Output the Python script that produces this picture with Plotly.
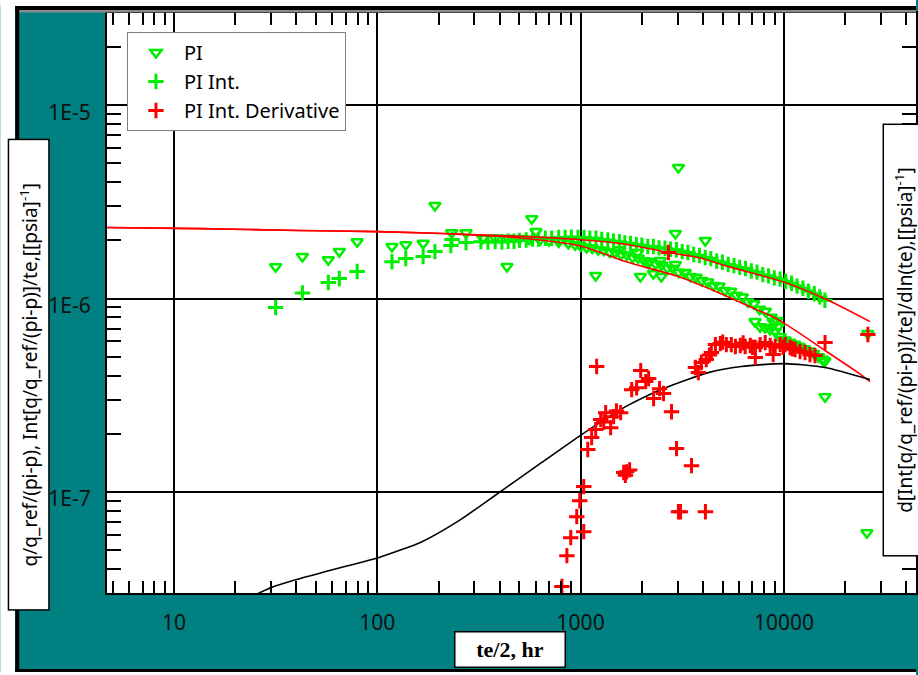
import math
import plotly.graph_objects as go

# ---------------- data ----------------
x_ticks = [10, 100, 1000, 10000]
x_tick_labels = ["10", "100", "1000", "10000"]
y_ticks = [1e-7, 1e-6, 1e-5]
y_tick_labels = ["1E-7", "1E-6", "1E-5"]

# PI (q/q_ref/(pi-p)) - triangles
pi_x = [31.6, 42.8, 57.4, 65.0, 79.6, 118, 138, 168, 192, 232, 273, 434, 575, 603, 1186,
        330, 380, 440, 500, 560, 630, 700, 780, 870, 940,
        1000, 1070, 1140, 1220, 1300, 1390, 1480, 1580, 1690, 1800, 1920, 2050, 2190, 2340,
        2500, 2670, 2850, 3040, 3250, 3470, 3700, 3950, 4220, 4500, 4800, 5130, 5470, 5840,
        6240, 6660, 7110, 7590, 8100, 8650, 9230,
        7210, 7630, 8080, 8550, 9050, 9580, 9360, 8850, 9690,
        10140, 10700, 11300, 11900, 12600, 13300, 14000, 14800, 15500, 15900,
        3027, 2925, 4104, 1967, 1905, 2466, 2280, 2494, 2925, 3273, 1537, 2158,
        15930, 25600, 25880, 15770]
pi_y = [1.46e-6, 1.65e-6, 1.59e-6, 1.75e-6, 1.97e-6, 1.86e-6, 1.90e-6, 1.93e-6, 3.03e-6, 2.19e-6,
        2.19e-6, 1.464e-6, 2.59e-6, 2.22e-6, 1.315e-6,
        2.05e-6, 2.06e-6, 2.05e-6, 2.04e-6, 2.03e-6, 2.01e-6, 1.99e-6, 1.96e-6, 1.93e-6, 1.90e-6,
        1.87e-6, 1.84e-6, 1.83e-6, 1.79e-6, 1.78e-6, 1.74e-6, 1.73e-6, 1.69e-6, 1.68e-6, 1.63e-6,
        1.62e-6, 1.57e-6, 1.56e-6, 1.51e-6, 1.49e-6, 1.44e-6, 1.43e-6, 1.37e-6, 1.36e-6, 1.30e-6,
        1.29e-6, 1.24e-6, 1.22e-6, 1.17e-6, 1.16e-6, 1.10e-6, 1.09e-6, 1.04e-6, 1.02e-6, 9.6e-7,
        9.4e-7, 8.8e-7, 8.6e-7, 8.0e-7, 7.7e-7,
        7.6e-7, 7.16e-7, 7.08e-7, 6.92e-7, 6.75e-7, 6.36e-7, 7.16e-7, 7.6e-7, 6.14e-7,
        6.1e-7, 5.95e-7, 5.8e-7, 5.65e-7, 5.5e-7, 5.35e-7, 5.2e-7, 5.0e-7, 4.85e-7, 4.75e-7,
        4.76e-6, 2.17e-6, 1.995e-6, 1.30e-6, 1.73e-6, 1.572e-6, 1.346e-6, 1.30e-6, 1.50e-6,
        1.364e-6, 1.79e-6, 1.525e-6,
        3.11e-7, 6.15e-8, 6.59e-7, 4.72e-7]

# PI Int. - green crosses
pint_x = [31.6, 42.8, 57.4, 65.0, 79.6, 118, 138, 168, 192, 230, 233, 273, 323,
          350, 380, 410, 440, 470, 500, 540, 580, 620, 670, 720, 780, 840, 900, 970, 1040,
          1110, 1190, 1270, 1360, 1450, 1550, 1650, 1760, 1880, 2000, 2140, 2280, 2430, 2600,
          2770, 2960, 3160, 3370, 3600, 3840, 4100, 4370, 4670, 4980, 5320, 5680, 6060, 6470,
          6910, 7370, 7870, 8400, 8970, 9570, 10200, 10900, 11600, 12400, 13200, 14100, 15000,
          15900]
pint_y = [8.98e-7, 1.07e-6, 1.21e-6, 1.27e-6, 1.38e-6, 1.55e-6, 1.61e-6, 1.65e-6, 1.75e-6,
          1.88e-6, 2.02e-6, 1.95e-6, 1.97e-6,
          1.96e-6, 1.97e-6, 1.96e-6, 1.98e-6, 1.98e-6, 2.00e-6, 2.01e-6, 2.03e-6, 2.03e-6,
          2.05e-6, 2.05e-6, 2.07e-6, 2.07e-6, 2.08e-6, 2.07e-6, 2.07e-6, 2.05e-6, 2.05e-6,
          2.02e-6, 2.01e-6, 1.98e-6, 1.97e-6, 1.94e-6, 1.93e-6, 1.90e-6, 1.89e-6, 1.86e-6,
          1.86e-6, 1.83e-6, 1.82e-6, 1.80e-6, 1.79e-6, 1.75e-6, 1.73e-6, 1.69e-6, 1.67e-6,
          1.63e-6, 1.61e-6, 1.56e-6, 1.54e-6, 1.50e-6, 1.48e-6, 1.45e-6, 1.43e-6, 1.39e-6,
          1.37e-6, 1.33e-6, 1.31e-6, 1.28e-6, 1.26e-6, 1.23e-6, 1.20e-6, 1.16e-6, 1.13e-6,
          1.09e-6, 1.06e-6, 1.02e-6, 9.8e-7]

# PI Int. Derivative - red crosses
der_x = [809, 856, 894, 957, 990, 1036, 1036, 1084, 1133, 1186, 1199, 1255, 1328, 1405, 1453,
         1573, 1300, 1500, 1628, 1683, 1742, 1660, 1783, 1886, 1975, 2089, 2160, 2285, 2445,
         2557, 2704, 2800, 2963, 3027, 3098, 3510, 4110, 3670, 3793, 3925, 4150, 4395, 4600,
         4865, 5210, 5510, 5770, 6100, 6450, 6830, 7230, 7230, 7640, 8090, 8560, 8850, 9060,
         9580, 10140, 10720, 11350, 12000, 12700, 13430, 14220, 15930, 25880,
         5000, 6300, 7000, 9900, 4300, 11000]
der_y = [3.24e-8, 4.68e-8, 5.80e-8, 7.45e-8, 9.0e-8, 1.065e-7, 6.23e-8, 1.656e-7, 1.91e-7,
         2.10e-7, 4.45e-7, 2.37e-7, 2.57e-7, 2.15e-7, 2.45e-7, 2.57e-7, 2.3e-7, 2.62e-7,
         1.26e-7, 1.27e-7, 1.30e-7, 1.22e-7, 3.38e-7, 3.46e-7, 4.24e-7, 3.72e-7, 3.86e-7,
         3.04e-7, 3.42e-7, 3.23e-7, 1.73e-6, 2.60e-7, 1.675e-7, 7.9e-8, 7.9e-8, 1.367e-7,
         7.9e-8, 4.40e-7, 4.14e-7, 4.67e-7, 4.84e-7, 5.26e-7, 5.78e-7, 5.85e-7, 5.78e-7,
         5.78e-7, 5.65e-7, 5.72e-7, 5.65e-7, 5.72e-7, 5.58e-7, 4.95e-7, 5.78e-7, 5.92e-7,
         5.72e-7, 5.13e-7, 5.65e-7, 5.78e-7, 5.78e-7, 5.58e-7, 5.45e-7, 5.32e-7, 5.26e-7,
         5.13e-7, 5.07e-7, 5.92e-7, 6.52e-7,
         5.95e-7, 5.9e-7, 5.6e-7, 5.6e-7, 5.1e-7, 5.5e-7]

# model curves
mod_int_x = [4.68, 13.4, 41.4, 100, 208, 396, 977, 1722, 2704, 3793, 5510, 10140, 16480, 26500]
mod_int_y = [2.33e-6, 2.30e-6, 2.25e-6, 2.22e-6, 2.17e-6, 2.12e-6, 2.02e-6, 1.90e-6, 1.73e-6,
             1.63e-6, 1.45e-6, 1.21e-6, 9.8e-7, 7.6e-7]
mod_pi_x = [4.68, 13.4, 41.4, 100, 208, 300, 500, 977, 1722, 3027, 4395, 6450, 9360, 16480,
            23150, 26500]
mod_pi_y = [2.33e-6, 2.30e-6, 2.25e-6, 2.22e-6, 2.17e-6, 2.13e-6, 2.06e-6, 1.88e-6, 1.536e-6,
            1.30e-6, 1.113e-6, 9.31e-7, 7.78e-7, 5.26e-7, 4.14e-7, 3.72e-7]
mod_der_x = [24.5, 30.1, 40.0, 60.1, 101, 166, 252, 396, 644, 1012, 1663, 2614, 4250, 6170,
             10020, 15930, 26500]
mod_der_y = [2.9e-8, 3.2e-8, 3.52e-8, 3.96e-8, 4.57e-8, 5.53e-8, 7.1e-8, 9.9e-8, 1.42e-7,
             1.98e-7, 2.76e-7, 3.46e-7, 4.14e-7, 4.45e-7, 4.61e-7, 4.4e-7, 3.81e-7]

# ---------------- layout geometry ----------------
W, H = 918, 675
L, R, T, B = 107, 918, 13, 593
PW, PH = R - L, B - T


def px(xp):
    return (xp - L) / PW


def py(yp):
    return 1 - (yp - T) / PH


GREEN = "#00ee00"
RED = "#ff0000"
TEAL = "#008080"
FONT = "Noto Sans"

fig = go.Figure()
fig.add_trace(go.Scatter(x=pi_x, y=pi_y, mode="markers", name="PI",
                         marker=dict(symbol="triangle-down-open", size=10, color=GREEN,
                                     line=dict(width=2.5, color=GREEN))))
fig.add_trace(go.Scatter(x=pint_x, y=pint_y, mode="markers", name="PI Int.",
                         marker=dict(symbol="cross-thin-open", size=11, color=GREEN,
                                     line=dict(width=3, color=GREEN))))
fig.add_trace(go.Scatter(x=mod_int_x, y=mod_int_y, mode="lines", showlegend=False,
                         line=dict(color=RED, width=1.6, shape="spline", smoothing=0.8)))
fig.add_trace(go.Scatter(x=mod_pi_x, y=mod_pi_y, mode="lines", showlegend=False,
                         line=dict(color=RED, width=1.6, shape="spline", smoothing=0.8)))
fig.add_trace(go.Scatter(x=mod_der_x, y=mod_der_y, mode="lines", showlegend=False,
                         line=dict(color="black", width=1.6, shape="spline", smoothing=0.6)))
fig.add_trace(go.Scatter(x=der_x, y=der_y, mode="markers", name="PI Int. Derivative",
                         marker=dict(symbol="cross-thin-open", size=11, color=RED,
                                     line=dict(width=3, color=RED))))

x_minor = [m * 10 ** e for e in range(0, 5) for m in range(2, 10)]
y_minor = [m * 10.0 ** e for e in range(-8, -4) for m in range(2, 10)]

fig.update_xaxes(type="log", range=[math.log10(4.68), math.log10(4.68) + PW / 203.8],
                 tickmode="array", tickvals=x_ticks, ticktext=x_tick_labels,
                 showgrid=True, gridcolor="black", gridwidth=1.5,
                 ticks="inside", ticklen=12, tickwidth=1.5, tickcolor="black",
                 showline=True, linecolor="black", linewidth=2, mirror="allticks",
                 minor=dict(tickvals=x_minor, ticks="inside", ticklen=12, tickwidth=1.5,
                            tickcolor="black", showgrid=False),
                 tickfont=dict(family=FONT, size=21, color="#111111"),
                 ticklabelstandoff=10, zeroline=False)
fig.update_yaxes(type="log", range=[math.log10(3e-8), math.log10(3e-5)],
                 tickmode="array", tickvals=y_ticks, ticktext=y_tick_labels,
                 showgrid=True, gridcolor="black", gridwidth=1.5,
                 ticks="inside", ticklen=14, tickwidth=1.5, tickcolor="black",
                 showline=True, linecolor="black", linewidth=2, mirror="allticks",
                 minor=dict(tickvals=y_minor, ticks="inside", ticklen=14, tickwidth=1.5,
                            tickcolor="black", showgrid=False),
                 tickfont=dict(family=FONT, size=21, color="#111111"),
                 ticklabelstandoff=10, ticklabelshift=7, zeroline=False)

shapes = []
# white outside the frame
shapes.append(dict(type="rect", xref="paper", yref="paper", x0=px(0), x1=px(15), y0=py(H), y1=py(0),
                   fillcolor="white", line=dict(width=0), layer="above"))
shapes.append(dict(type="rect", xref="paper", yref="paper", x0=px(0), x1=px(W), y0=py(6), y1=py(0),
                   fillcolor="white", line=dict(width=0), layer="above"))
shapes.append(dict(type="rect", xref="paper", yref="paper", x0=px(0), x1=px(W), y0=py(H), y1=py(672),
                   fillcolor="white", line=dict(width=0), layer="above"))
# black frame
shapes.append(dict(type="rect", xref="paper", yref="paper", x0=px(15), x1=px(19), y0=py(672), y1=py(6),
                   fillcolor="black", line=dict(width=0), layer="above"))
shapes.append(dict(type="rect", xref="paper", yref="paper", x0=px(15), x1=px(W), y0=py(10), y1=py(6),
                   fillcolor="black", line=dict(width=0), layer="above"))
shapes.append(dict(type="rect", xref="paper", yref="paper", x0=px(15), x1=px(W), y0=py(672), y1=py(669),
                   fillcolor="black", line=dict(width=0), layer="above"))
shapes.append(dict(type="rect", xref="paper", yref="paper", x0=px(19), x1=px(W), y0=py(12.5), y1=py(10),
                   fillcolor="#8a8a8a", line=dict(width=0), layer="above"))

annotations = [
    dict(text="q/q_ref/(pi-p), Int[q/q_ref/(pi-p)]/te,[[psia]<sup>-1</sup>]",
         xref="paper", yref="paper", x=px(28), y=py(374.5), xanchor="center", yanchor="middle",
         showarrow=False, textangle=-90, width=469, height=39, borderpad=0,
         bgcolor="white", bordercolor="black", borderwidth=1.5,
         font=dict(family=FONT, size=19, color="black")),
    dict(text="d[Int[q/q_ref/(pi-p)]/te]/dln(te),[[psia]<sup>-1</sup>]",
         xref="paper", yref="paper", x=px(905), y=py(340.5), xanchor="center", yanchor="middle",
         showarrow=False, textangle=-90, width=430, height=39, borderpad=0,
         bgcolor="white", bordercolor="black", borderwidth=1.5,
         font=dict(family=FONT, size=19, color="black")),
    dict(text="<b>te/2, hr</b>",
         xref="paper", yref="paper", x=px(511), y=py(649.5), xanchor="center", yanchor="middle",
         showarrow=False, width=109, height=34, borderpad=0,
         bgcolor="white", bordercolor="black", borderwidth=1.5,
         font=dict(family="Liberation Serif", size=22, color="black")),
]

fig.update_layout(
    width=W, height=H,
    margin=dict(l=L, r=W - R, t=T, b=H - B, pad=0),
    paper_bgcolor=TEAL, plot_bgcolor="white",
    shapes=shapes, annotations=annotations,
    legend=dict(x=px(127), y=py(32), xanchor="left", yanchor="top",
                bgcolor="white", bordercolor="#808080", borderwidth=1,
                font=dict(family=FONT, size=20, color="black"),
                itemwidth=46, tracegroupgap=0),
    showlegend=True,
)

fig.write_html("out.html")
